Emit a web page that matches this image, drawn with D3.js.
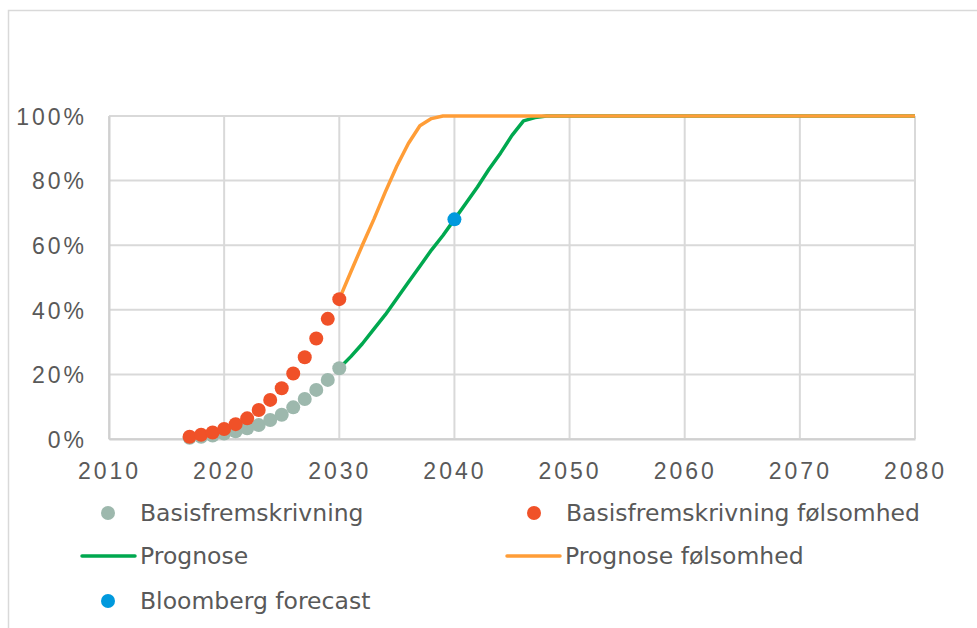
<!DOCTYPE html>
<html>
<head>
<meta charset="utf-8">
<script src="https://cdn.jsdelivr.net/npm/d3@7"></script>
<style>
  body { margin: 0; background: #fff; }
  svg { font-family: "DejaVu Sans", Verdana, sans-serif; }
  .tick text { fill: #595959; font-size: 23px; letter-spacing: 3px; }
</style>
</head>
<body>
<svg id="chart" width="977" height="628"></svg>
<script>
// data
var dotYears = [2017, 2018, 2019, 2020, 2021, 2022, 2023, 2024, 2025, 2026, 2027, 2028, 2029, 2030];
var basis = [0.4, 0.7, 1.1, 1.7, 2.4, 3.3, 4.3, 5.9, 7.5, 9.8, 12.4, 15.2, 18.3, 21.9];
var basisFoelsomhed = [0.7, 1.3, 2.0, 3.1, 4.6, 6.4, 9.0, 12.1, 15.7, 20.3, 25.3, 31.1, 37.2, 43.3];

var prognoseYears = [2030, 2031, 2032, 2033, 2034, 2035, 2036, 2037, 2038, 2039, 2040,
    2041, 2042, 2043, 2044, 2045, 2046, 2047, 2048, 2080];
var prognose = [21.9, 25.5, 29.5, 34, 38.5, 43.5, 48.5, 53.5, 58.5, 63, 68,
    73, 78, 83.5, 88.5, 94, 98.5, 99.5, 100, 100];

var foelsomhedYears = [2030, 2031, 2032, 2033, 2034, 2035, 2036, 2037, 2038, 2039, 2080];
var prognoseFoelsomhed = [43.3, 51.7, 60, 68, 76.5, 84.5, 91.5, 97, 99.2, 100, 100];

var bloombergYears = [2040];
var bloomberg = [68];

var xTicks = [2010, 2020, 2030, 2040, 2050, 2060, 2070, 2080];
var yTicks = [0, 20, 40, 60, 80, 100];

var colors = {
    basis: "#9db8ad",
    basisF: "#f05128",
    prognose: "#00a84f",
    prognoseF: "#ff9d37",
    bloomberg: "#0099dd"
};

var svg = d3.select("#chart");

// outer frame
svg.append("rect")
    .attr("x", 8.5).attr("y", 10.5)
    .attr("width", 1000).attr("height", 700)
    .attr("fill", "none")
    .attr("stroke", "#d9d9d9")
    .attr("stroke-width", 1.5);

var x = d3.scaleLinear().domain([2010, 2080]).range([109, 915]);
var y = d3.scaleLinear().domain([0, 100]).range([439, 116]);

// gridlines
var grid = svg.append("g").attr("class", "grid");
grid.selectAll("line.h").data(yTicks).enter().append("line")
    .attr("x1", x(2010)).attr("x2", x(2080))
    .attr("y1", function(d) { return y(d); })
    .attr("y2", function(d) { return y(d); })
    .attr("stroke", "#d9d9d9").attr("stroke-width", 2);
grid.selectAll("line.v").data(xTicks).enter().append("line")
    .attr("y1", y(0)).attr("y2", y(100))
    .attr("x1", function(d) { return x(d); })
    .attr("x2", function(d) { return x(d); })
    .attr("stroke", "#d9d9d9").attr("stroke-width", 2);

// axes
var xAxis = d3.axisBottom(x).tickValues(xTicks).tickFormat(d3.format("d")).tickSize(0).tickPadding(24);
var yAxis = d3.axisLeft(y).tickValues(yTicks).tickFormat(function(d) { return d + "%"; }).tickSize(0).tickPadding(22);

var gx = svg.append("g").attr("transform", "translate(0," + y(0) + ")").call(xAxis);
gx.select(".domain").attr("stroke", "#d0d0d0").attr("stroke-width", 2);
var gy = svg.append("g").attr("transform", "translate(" + x(2010) + ",0)").call(yAxis);
gy.select(".domain").attr("stroke", "#d0d0d0").attr("stroke-width", 2);
gy.selectAll(".tick text").attr("dy", "0.36em");

// lines
var line = d3.line()
    .x(function(d) { return x(d[0]); })
    .y(function(d) { return y(d[1]); });

svg.append("path")
    .datum(d3.zip(prognoseYears, prognose))
    .attr("d", line)
    .attr("fill", "none")
    .attr("stroke", colors.prognose)
    .attr("stroke-width", 3.5)
    .attr("stroke-linejoin", "round");

svg.append("path")
    .datum(d3.zip(foelsomhedYears, prognoseFoelsomhed))
    .attr("d", line)
    .attr("fill", "none")
    .attr("stroke", colors.prognoseF)
    .attr("stroke-width", 3.5)
    .attr("stroke-linejoin", "round");

// dots
function dots(years, values, color) {
    svg.append("g").selectAll("circle")
        .data(d3.zip(years, values))
        .enter().append("circle")
        .attr("cx", function(d) { return x(d[0]); })
        .attr("cy", function(d) { return y(d[1]); })
        .attr("r", 7)
        .attr("fill", color);
}
dots(dotYears, basis, colors.basis);
dots(dotYears, basisFoelsomhed, colors.basisF);
dots(bloombergYears, bloomberg, colors.bloomberg);

// legend
var legend = [
    {name: "Basisfremskrivning", type: "dot", color: colors.basis, x: 108, y: 513},
    {name: "Basisfremskrivning følsomhed", type: "dot", color: colors.basisF, x: 534, y: 513},
    {name: "Prognose", type: "line", color: colors.prognose, x: 108, y: 556},
    {name: "Prognose følsomhed", type: "line", color: colors.prognoseF, x: 533, y: 556},
    {name: "Bloomberg forecast", type: "dot", color: colors.bloomberg, x: 108, y: 601}
];

var lg = svg.append("g").selectAll("g").data(legend).enter().append("g")
    .attr("transform", function(d) { return "translate(" + d.x + "," + d.y + ")"; });

lg.filter(function(d) { return d.type === "dot"; }).append("circle")
    .attr("r", 7).attr("fill", function(d) { return d.color; });
lg.filter(function(d) { return d.type === "line"; }).append("line")
    .attr("x1", -26).attr("x2", 27)
    .attr("stroke", function(d) { return d.color; })
    .attr("stroke-width", 3.5)
    .attr("stroke-linecap", "round");
lg.append("text")
    .attr("x", 32)
    .attr("dy", "0.36em")
    .attr("fill", "#595959")
    .attr("font-size", 23.5)
    .text(function(d) { return d.name; });
</script>
</body>
</html>
